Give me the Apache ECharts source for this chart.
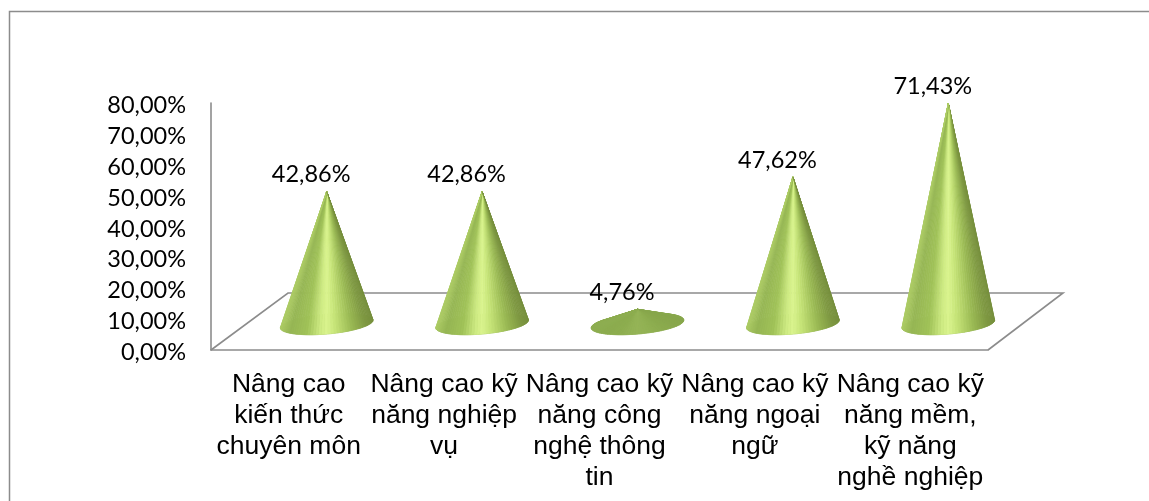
<!DOCTYPE html>
<html><head><meta charset="utf-8">
<style>html,body{margin:0;padding:0;background:#fff}#c{width:1149px;height:501px}</style>
<script src="https://cdn.jsdelivr.net/npm/echarts@6/dist/echarts.min.js"></script>
</head><body><div id="c"></div>
<script>
const categories = [
  "Nâng cao\nkiến thức\nchuyên môn",
  "Nâng cao kỹ\nnăng nghiệp\nvụ",
  "Nâng cao kỹ\nnăng công\nnghệ thông\ntin",
  "Nâng cao kỹ\nnăng ngoại\nngữ",
  "Nâng cao kỹ\nnăng mềm,\nkỹ năng\nnghề nghiệp"
];
const values = [42.86, 42.86, 4.76, 47.62, 71.43];

const fmt = v => v.toFixed(2).replace('.', ',') + '%';
const ramp = [
  [0.00, [172, 203, 100]], [0.10, [150, 182, 84]], [0.28, [160, 194, 88]],
  [0.42, [205, 234, 130]], [0.50, [218, 244, 142]], [0.60, [196, 226, 118]],
  [0.78, [152, 183, 82]], [0.92, [126, 152, 66]], [1.00, [118, 142, 60]]
];
const flat = [138, 170, 78];
function shade(t, f) {
  let i = 0;
  while (i < ramp.length - 2 && t > ramp[i + 1][0]) i++;
  const a = ramp[i], b = ramp[i + 1], k = Math.min(1, Math.max(0, (t - a[0]) / (b[0] - a[0])));
  const c = a[1].map((v, j) => (v + (b[1][j] - v) * k) * f + flat[j] * (1 - f));
  return 'rgb(' + c.map(Math.round).join(',') + ')';
}
const DX = 38, DY = -26, RX = 46.5, RY = 10, ROT = -5 * Math.PI / 180, N = 96;

function renderFloor(params, api) {
  const g = params.coordSys, L = g.x, R = g.x + g.width, B = g.y + g.height;
  return {
    type: 'polyline', silent: true,
    shape: { points: [[L, B], [L + 77, B - 57], [R + 75, B - 57], [R, B]] },
    style: { fill: null, stroke: '#8c8c8c', lineWidth: 1.6 }
  };
}
function renderCone(params, api) {
  const base = api.coord([api.value(0), 0]);
  const top = api.coord([api.value(0), api.value(1)]);
  const cx = base[0] + DX, cy = base[1] + DY;
  const ax = top[0] + DX, ay = top[1] + DY;
  const f = Math.min(1, (cy - ay) / 110);
  const pt = th => {
    const x = RX * Math.cos(th), y = RY * Math.sin(th);
    return [cx + x * Math.cos(ROT) - y * Math.sin(ROT), cy + x * Math.sin(ROT) + y * Math.cos(ROT)];
  };
  const ring = [];
  for (let i = 0; i < N; i++) ring.push(pt(i / N * 2 * Math.PI));
  const children = [{
    type: 'polygon', shape: { points: ring },
    style: { fill: 'rgb(138,170,78)', stroke: 'rgb(138,170,78)', lineWidth: 0.5 }
  }];
  for (let i = 0; i < N; i++) {
    const p = pt(i / N * 2 * Math.PI), q = pt((i + 1) / N * 2 * Math.PI);
    const cross = (q[0] - p[0]) * (ay - p[1]) - (q[1] - p[1]) * (ax - p[0]);
    if (cross <= 0) continue;
    const t = ((p[0] + q[0]) / 2 - (cx - RX)) / (2 * RX);
    const col = shade(t, f);
    children.push({
      type: 'polygon', shape: { points: [p, q, [ax, ay]] },
      style: { fill: col, stroke: col, lineWidth: 0.7 }
    });
  }
  children.push({
    type: 'text',
    style: {
      text: fmt(api.value(1)), x: ax - 15.5, y: ay - 17, align: 'center', verticalAlign: 'middle',
      fontFamily: 'Lato', fontSize: 23.5, fill: '#000'
    }
  });
  return { type: 'group', silent: true, children };
}

const chart = echarts.init(document.getElementById('c'), null, { renderer: 'canvas' });
chart.setOption({
  animation: false,
  backgroundColor: '#fff',
  grid: { left: 211, top: 103, width: 777, height: 247, containLabel: false },
  xAxis: {
    type: 'category', data: categories,
    axisLine: { show: true, lineStyle: { color: '#8c8c8c', width: 1.6 } },
    axisTick: { show: false },
    axisLabel: {
      interval: 0, margin: 19, color: '#000', fontFamily: 'Liberation Sans',
      fontSize: 26.5, lineHeight: 31, verticalAlign: 'top'
    }
  },
  yAxis: {
    type: 'value', min: 0, max: 80, interval: 10,
    axisLine: { show: true, lineStyle: { color: '#8c8c8c', width: 1.6 } },
    axisTick: { show: false },
    splitLine: { show: false },
    axisLabel: { margin: 25, color: '#000', fontFamily: 'Lato', fontSize: 23.5, verticalAlign: 'top', lineHeight: 5, formatter: v => fmt(v) }
  },
  graphic: [{
    type: 'polyline', silent: true,
    shape: { points: [[9.5, 501], [9.5, 11.5], [1149, 11.5]] },
    style: { fill: null, stroke: '#8c8c8c', lineWidth: 1.5 }
  }],
  series: [
    { type: 'custom', coordinateSystem: 'cartesian2d', renderItem: renderFloor, data: [[0, 0]], z: 1, silent: true, clip: false },
    { type: 'custom', coordinateSystem: 'cartesian2d', renderItem: renderCone,
      data: values.map((v, i) => [i, v]), encode: { x: 0, y: 1 }, z: 2, silent: true, clip: false }
  ]
});
</script></body></html>
